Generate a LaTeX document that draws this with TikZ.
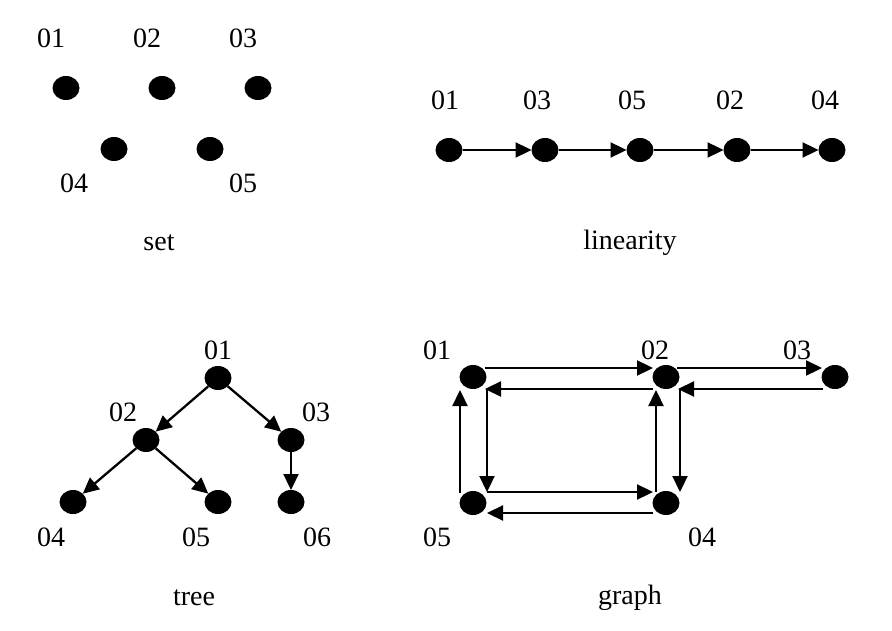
\documentclass[tikz,border=0pt]{standalone}
\usepackage{fontspec}
\setmainfont{Liberation Serif}
\usetikzlibrary{arrows.meta,shapes.geometric}
\begin{document}
\begin{tikzpicture}[x=1pt,y=-1pt,
  dot/.style={ellipse,fill=black,inner sep=0pt,outer sep=0pt,minimum width=27pt,minimum height=24pt},
  lbl/.style={font=\fontsize{28}{32}\selectfont,inner sep=0pt},
  arr/.style={line width=2.3pt,-{Triangle[length=16pt,width=15pt]}}]
\useasboundingbox (0,0) rectangle (892,631);
% set
\node[dot] (s1) at (66,88) {};
\node[dot] (s2) at (162,88) {};
\node[dot] (s3) at (258,88) {};
\node[dot] (s4) at (114,149) {};
\node[dot] (s5) at (210,149) {};
\node[lbl] (ls1) at (51,38) {01};
\node[lbl] (ls2) at (147,38) {02};
\node[lbl] (ls3) at (243,38) {03};
\node[lbl] (ls4) at (74,183) {04};
\node[lbl] (ls5) at (243,183) {05};
\node[lbl] (cset) at (159,243) {set};
% linearity
\node[dot] (l1) at (449,150) {};
\node[dot] (l3) at (545,150) {};
\node[dot] (l5) at (640,150) {};
\node[dot] (l2) at (737,150) {};
\node[dot] (l4) at (832,150) {};
\node[lbl] (ll1) at (445,100) {01};
\node[lbl] (ll3) at (537,100) {03};
\node[lbl] (ll5) at (632,100) {05};
\node[lbl] (ll2) at (730,100) {02};
\node[lbl] (ll4) at (825,100) {04};
\node[lbl] (clin) at (630,243) {linearity};
\draw[arr] (l1) -- (l3);
\draw[arr] (l3) -- (l5);
\draw[arr] (l5) -- (l2);
\draw[arr] (l2) -- (l4);
% tree
\node[dot] (t1) at (218,378) {};
\node[dot] (t2) at (146,440) {};
\node[dot] (t3) at (291,440) {};
\node[dot] (t4) at (73,502) {};
\node[dot] (t5) at (218,502) {};
\node[dot] (t6) at (291,502) {};
\node[lbl] (lt1) at (218,350) {01};
\node[lbl] (lt2) at (123,412) {02};
\node[lbl] (lt3) at (316,412) {03};
\node[lbl] (lt4) at (51,537) {04};
\node[lbl] (lt5) at (196,537) {05};
\node[lbl] (lt6) at (317,537) {06};
\node[lbl] (ctree) at (194,598) {tree};
\draw[arr] (t1) -- (t2);
\draw[arr] (t1) -- (t3);
\draw[arr] (t2) -- (t4);
\draw[arr] (t2) -- (t5);
\draw[arr] (t3) -- (t6);
% graph
\node[dot] (g1) at (473,377) {};
\node[dot] (g2) at (666,377) {};
\node[dot] (g3) at (835,377) {};
\node[dot] (g5) at (473,503) {};
\node[dot] (g4) at (666,503) {};
\node[lbl] (lg1) at (437,350) {01};
\node[lbl] (lg2) at (655,350) {02};
\node[lbl] (lg3) at (797,350) {03};
\node[lbl] (lg5) at (437,537) {05};
\node[lbl] (lg4) at (702,537) {04};
\node[lbl] (cgraph) at (630,598) {graph};
\draw[arr] ([shift={(12,-9)}]g1.center) -- ([shift={(-13,-9)}]g2.center);
\draw[arr] ([shift={(-13,12)}]g2.center) -- ([shift={(12,12)}]g1.center);
\draw[arr] ([shift={(11,-9)}]g2.center) -- ([shift={(-13,-9)}]g3.center);
\draw[arr] ([shift={(-12,12)}]g3.center) -- ([shift={(12,12)}]g2.center);
\draw[arr] ([shift={(14,12)}]g1.center) -- ([shift={(14,-11)}]g5.center);
\draw[arr] ([shift={(-13,-10)}]g5.center) -- ([shift={(-13,13)}]g1.center);
\draw[arr] ([shift={(14,-11)}]g5.center) -- ([shift={(-13,-11)}]g4.center);
\draw[arr] ([shift={(-13,10)}]g4.center) -- ([shift={(14,10)}]g5.center);
\draw[arr] ([shift={(-10,-11)}]g4.center) -- ([shift={(-10,13)}]g2.center);
\draw[arr] ([shift={(14,12)}]g2.center) -- ([shift={(14,-11)}]g4.center);
\end{tikzpicture}
\end{document}
